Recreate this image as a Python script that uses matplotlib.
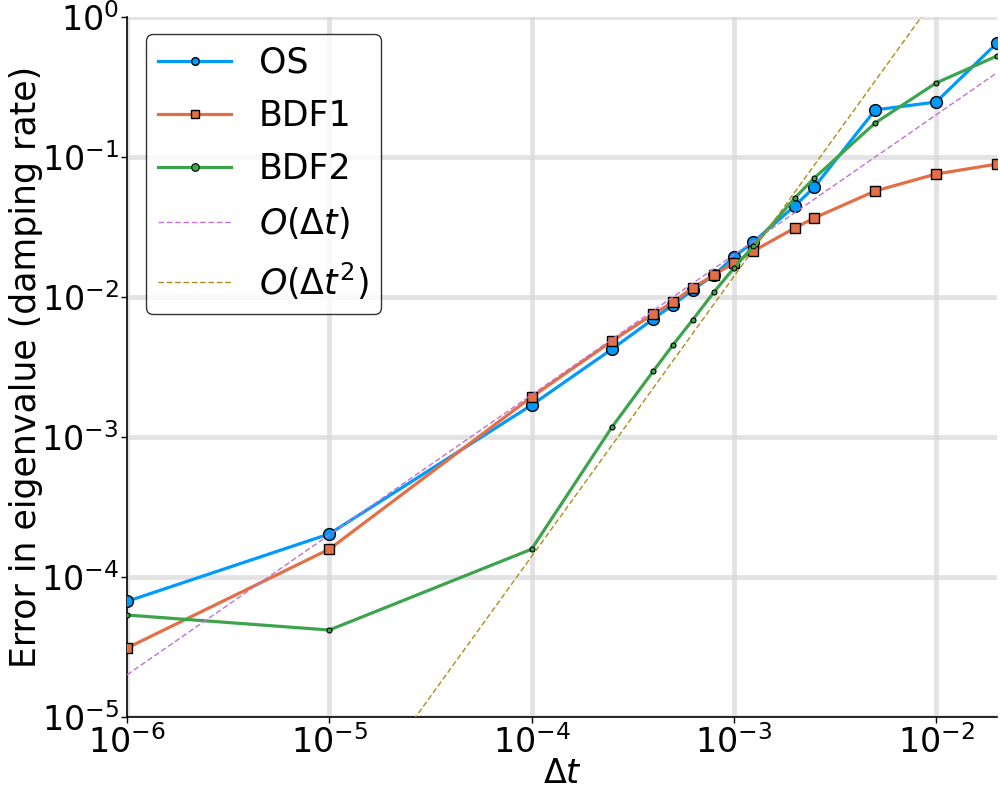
import numpy as np
import matplotlib
matplotlib.use("Agg")
import matplotlib.pyplot as plt
from matplotlib.ticker import LogLocator, NullLocator, LogFormatterMathtext

# time steps
dt = [1e-6, 1e-5, 1e-4, 2.5e-4, 4e-4, 5e-4, 6.25e-4, 8e-4, 1e-3,
      1.25e-3, 2e-3, 2.5e-3, 5e-3, 1e-2, 2e-2]

# error in damping rate
err_os = [6.7e-5, 2.03e-4, 1.69e-3, 4.25e-3, 6.97e-3, 8.8e-3, 1.12e-2, 1.44e-2,
          1.93e-2, 2.47e-2, 4.47e-2, 6.1e-2, 0.217, 0.247, 0.652]
err_bdf1 = [3.11e-5, 1.58e-4, 1.93e-3, 4.85e-3, 7.56e-3, 9.2e-3, 1.16e-2, 1.44e-2,
            1.75e-2, 2.13e-2, 3.11e-2, 3.67e-2, 5.72e-2, 7.56e-2, 8.9e-2]
err_bdf2 = [5.35e-5, 4.18e-5, 1.58e-4, 1.18e-3, 2.96e-3, 4.54e-3, 6.85e-3, 1.09e-2,
            1.61e-2, 2.31e-2, 5.09e-2, 7.08e-2, 0.175, 0.338, 0.527]

# coefficients of the reference slopes
c1 = 20.0
c2 = 1.4e4

dt_arr = np.array(dt)
ref1 = c1 * dt_arr
ref2 = c2 * dt_arr ** 2

plt.rcParams['font.family'] = ['DejaVu Sans']
plt.rcParams['mathtext.fontset'] = 'dejavusans'

fig = plt.figure(figsize=(10, 8), dpi=100)
ax = fig.add_axes([0.127, 0.10375, 0.87, 0.875])

ax.plot(dt, err_os, color="#009AFA", lw=2.3, marker="o", ms=8.5,
        mec="black", mew=1.0, label="OS", zorder=3)
ax.plot(dt, err_bdf1, color="#E26F46", lw=2.3, marker="s", ms=7,
        mec="black", mew=1.0, label="BDF1", zorder=4)
ax.plot(dt, err_bdf2, color="#3DA44D", lw=2.3, marker="o", ms=3.6,
        mec="black", mew=0.8, label="BDF2", zorder=5)
ax.plot(dt, ref1, color="#C271D2", lw=1.0, ls=(0, (4, 2)), label=r"$O(\Delta t)$", zorder=6)
ax.plot(dt, ref2, color="#AC8D18", lw=1.0, ls=(0, (4, 2)), label=r"$O(\Delta t^2)$", zorder=6)

ax.set_xscale("log")
ax.set_yscale("log")
ax.set_xlim(1e-6, 2e-2)
ax.set_ylim(1e-5, 1e0)

ax.xaxis.set_major_locator(LogLocator(base=10, numticks=20))
ax.yaxis.set_major_locator(LogLocator(base=10, numticks=20))
ax.xaxis.set_minor_locator(NullLocator())
ax.yaxis.set_minor_locator(NullLocator())
ax.xaxis.set_major_formatter(LogFormatterMathtext())
ax.yaxis.set_major_formatter(LogFormatterMathtext())

ax.grid(True, color="#d8d8d8", lw=3.5, alpha=0.7)
ax.set_axisbelow(True)
for s in ["top", "right"]:
    ax.spines[s].set_visible(False)
ax.spines["left"].set_linewidth(1.2)
ax.spines["bottom"].set_linewidth(1.2)
ax.tick_params(axis="both", which="major", labelsize=24, direction="out",
               length=4, width=1, pad=2)

ax.set_xlabel(r"$\Delta t$", fontsize=24, labelpad=-2)
ax.set_ylabel("Error in eigenvalue (damping rate)", fontsize=25, labelpad=-2)

leg = ax.legend(loc="upper left", fontsize=25, frameon=True, fancybox=True,
                edgecolor="black", borderpad=0.35, handlelength=2.1,
                handletextpad=0.8, borderaxespad=0,
                bbox_to_anchor=(0.022, 0.976), labelspacing=0.55)
leg.get_frame().set_linewidth(1.0)
for h in leg.legend_handles[:3]:
    h.set_markersize(5.5)

fig.savefig("out.png", dpi=100)
